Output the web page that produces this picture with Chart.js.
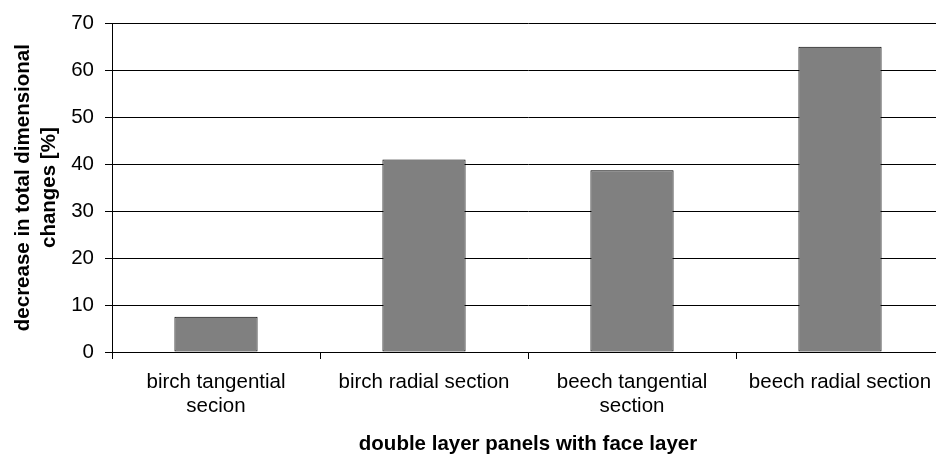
<!DOCTYPE html>
<html>
<head>
<meta charset="utf-8">
<script src="https://cdn.jsdelivr.net/npm/chart.js@4.4.1/dist/chart.umd.min.js"></script>
<style>
  html, body { margin: 0; padding: 0; background: #fff; overflow: hidden; }
  #wrap { width: 936px; height: 456px; overflow: hidden; position: relative; }
  canvas { display: block; }
</style>
</head>
<body>
<div id="wrap"><canvas id="c" width="950" height="456"></canvas></div>
<script>
const categories = [
  ['birch tangential', 'secion'],
  ['birch radial section'],
  ['beech tangential', 'section'],
  ['beech radial section']
];
const values = [7.5, 41.0, 38.7, 65.0];
const yTicks = [0, 10, 20, 30, 40, 50, 60, 70];
const yTitle = ['decrease in total dimensional', 'changes [%]'];
const xTitle = 'double layer panels with face layer';

const FONT = "'Liberation Sans', Arial, sans-serif";
const FS = 20.5;

new Chart(document.getElementById('c'), {
  type: 'bar',
  data: {
    labels: categories,
    datasets: [{
      data: values,
      backgroundColor: '#808080',
      borderColor: '#000000',
      borderWidth: 1,
      borderSkipped: false,
      barPercentage: 0.4,
      categoryPercentage: 1.0
    }]
  },
  options: {
    responsive: false,
    animation: false,
    devicePixelRatio: 1,
    layout: { padding: { top: 20, right: 6, left: 0, bottom: 0 } },
    plugins: { legend: { display: false }, tooltip: { enabled: false } },
    scales: {
      x: {
        offset: true,
        grid: { display: true, drawOnChartArea: false, drawTicks: true, tickLength: 7, color: '#000', offset: true },
        border: { display: true, color: '#000', width: 1 },
        ticks: { color: '#000', font: { family: FONT, size: FS, lineHeight: 1.15 }, padding: 12, maxRotation: 0, autoSkip: false },
        title: { display: true, text: xTitle, color: '#000', font: { family: FONT, size: FS, weight: 'bold', lineHeight: 1.15 }, padding: { top: 0, bottom: 0 } },
        afterFit: (s) => { s.height = 456 - 352; }
      },
      y: {
        min: 0, max: 70,
        afterBuildTicks: (s) => { s.ticks = yTicks.map(v => ({ value: v })); },
        grid: { display: true, drawOnChartArea: true, drawTicks: true, tickLength: 7, color: '#000' },
        border: { display: true, color: '#000', width: 1 },
        ticks: { color: '#000', font: { family: FONT, size: FS }, padding: 11 },
        title: { display: true, text: yTitle, color: '#000', font: { family: FONT, size: FS, weight: 'bold', lineHeight: 1.25 }, padding: { top: 11, bottom: 0 } },
        afterFit: (s) => { s.width = 112; }
      }
    }
  }
});
</script>
</body>
</html>
